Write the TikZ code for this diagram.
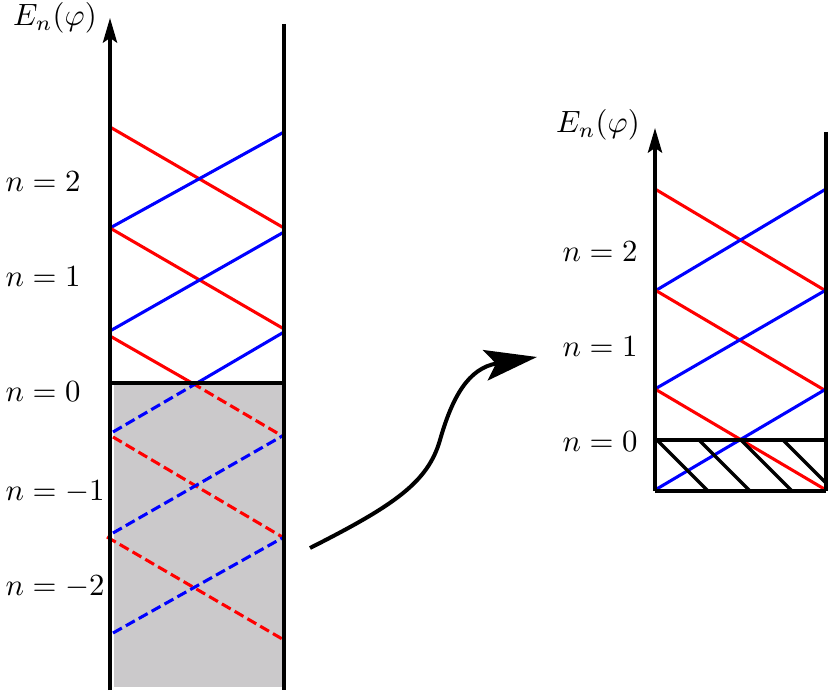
\documentclass[tikz,border=0pt]{standalone}
\usetikzlibrary{arrows.meta}
\definecolor{bandgray}{RGB}{203,201,203}
\begin{document}
\begin{tikzpicture}[x=0.325pt,y=-0.325pt,
  wall/.style={line width=1.1pt, black},
  redline/.style={line width=1pt, red},
  blueline/.style={line width=1pt, blue},
  dsh/.style={dash pattern=on 3.3pt off 1.5pt},
  lbl/.style={inner sep=0pt, anchor=west},
  axisarrow/.style={wall, -{Stealth[length=8pt,width=4.6pt,inset=1.5pt]}}]
\useasboundingbox (0,0) rectangle (830,693);
% ---------------- left panel ----------------
\fill[fill=bandgray] (114,384) rectangle (282,687);
% solid lines above n=0
\draw[redline] (110,127) -- (284,228);
\draw[blueline] (110,228) -- (284,132);
\draw[redline] (110,228) -- (284,329);
\draw[blueline] (110,331) -- (284,232);
\draw[redline] (110,336) -- (192,383);
\draw[blueline] (197,383) -- (284,332);
% dashed lines below n=0
\draw[redline,dsh] (192,383) -- (284,437);
\draw[blueline,dsh] (113,432) -- (197,383);
\draw[redline,dsh] (113,437) -- (284,538);
\draw[blueline,dsh] (113,533) -- (284,435);
\draw[redline,dsh] (107,537) -- (284,640);
\draw[blueline,dsh] (113,633) -- (284,537);
% walls
\draw[wall] (110,383) -- (284,383);
\draw[axisarrow] (110,690) -- (110,18);
\draw[wall] (284,24) -- (284,690);
% labels
\node (EL) at (55,18) {$E_n(\varphi)$};
\node[lbl] (L2) at (5,182) {$n=2$};
\node[lbl] (L1) at (5,277) {$n=1$};
\node[lbl] (L0) at (5,392) {$n=0$};
\node[lbl] (Lm1) at (5,492) {$n=-1$};
\node[lbl] (Lm2) at (5,587) {$n=-2$};
% ---------------- right panel ----------------
\draw[redline] (655,189) -- (826,291);
\draw[blueline] (655,291) -- (826,189);
\draw[redline] (655,290) -- (826,391);
\draw[blueline] (655,389) -- (826,290);
\draw[redline] (655,389) -- (826,490);
\draw[blueline] (655,490) -- (826,389);
\begin{scope}
  \clip (655,440) rectangle (826,491);
  \foreach \x in {657,699,741,783} \draw[wall] (\x,440) -- ++(52,52);
\end{scope}
\draw[wall] (655,440) -- (826,440);
\draw[wall] (655,491) -- (826,491);
\draw[axisarrow] (655,491) -- (655,128);
\draw[wall] (826,132) -- (826,491);
\node (ER) at (598,125) {$E_n(\varphi)$};
\node[lbl] (R2) at (562,252) {$n=2$};
\node[lbl] (R1) at (562,347) {$n=1$};
\node[lbl] (R0) at (562,442) {$n=0$};
% ---------------- transition arrow ----------------
\coordinate (A) at (310,548);
\coordinate (M) at (440,440);
\coordinate (B) at (537,357);
\draw[line width=1.3pt, -{Stealth[length=17pt,width=10pt,inset=3.5pt]}]
  (A) .. controls (395,505) and (428,482) .. (M)
      .. controls (452,398) and (468,368) .. (B);
\end{tikzpicture}
\end{document}
